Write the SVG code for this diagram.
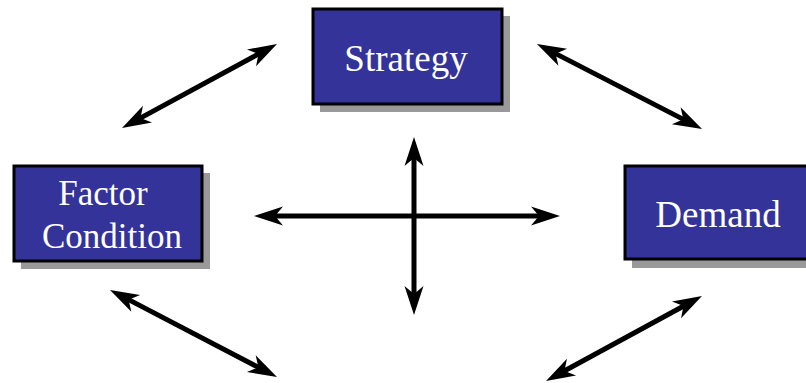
<svg xmlns="http://www.w3.org/2000/svg" width="806" height="383" viewBox="0 0 806 383">
  <style>
    .shadow { fill: #999999; }
    .box { fill: #333399; stroke: #000000; stroke-width: 3; }
    .label { font-family: "Liberation Serif", "Times New Roman", serif; font-size: 37px; fill: #ffffff; text-anchor: middle; }
    .small { font-size: 35px; }
    .conn { stroke: #000000; stroke-width: 5; fill: none; marker-start: url(#head); marker-end: url(#head); }
  </style>
  <defs>
    <marker id="head" markerUnits="userSpaceOnUse" viewBox="-1 -11 32 22" markerWidth="32" markerHeight="22" refX="14" refY="0" orient="auto-start-reverse">
      <path d="M0,-9.5 L29,0 L0,9.5 L8,0 Z" fill="#000000"/>
    </marker>
  </defs>
  <rect width="806" height="383" fill="#ffffff"/>
  <g id="connectors">
    <line class="conn" x1="135.2" y1="120.9" x2="263.8" y2="51.1"/>
    <line class="conn" x1="550.3" y1="50.9" x2="688.7" y2="122.1"/>
    <line class="conn" x1="123.3" y1="296.9" x2="263.7" y2="370.1"/>
    <line class="conn" x1="559.2" y1="373.8" x2="688.8" y2="303.2"/>
    <line class="conn" x1="269" y1="216" x2="545" y2="216"/>
    <line class="conn" x1="414" y1="152" x2="414" y2="300"/>
  </g>
  <g id="strategy">
    <rect class="shadow" x="320" y="16" width="190" height="96"/>
    <rect class="box" x="313" y="9" width="189" height="95"/>
    <text class="label" x="406" y="71">Strategy</text>
  </g>
  <g id="factor-condition">
    <rect class="shadow" x="21" y="173" width="189" height="96"/>
    <rect class="box" x="14" y="166" width="188" height="95"/>
    <text class="label small" x="103" y="205">Factor</text>
    <text class="label small" x="112" y="248">Condition</text>
  </g>
  <g id="demand">
    <rect class="shadow" x="632" y="173" width="190" height="95"/>
    <rect class="box" x="625" y="166" width="189" height="93"/>
    <text class="label" x="718" y="227">Demand</text>
  </g>
</svg>
